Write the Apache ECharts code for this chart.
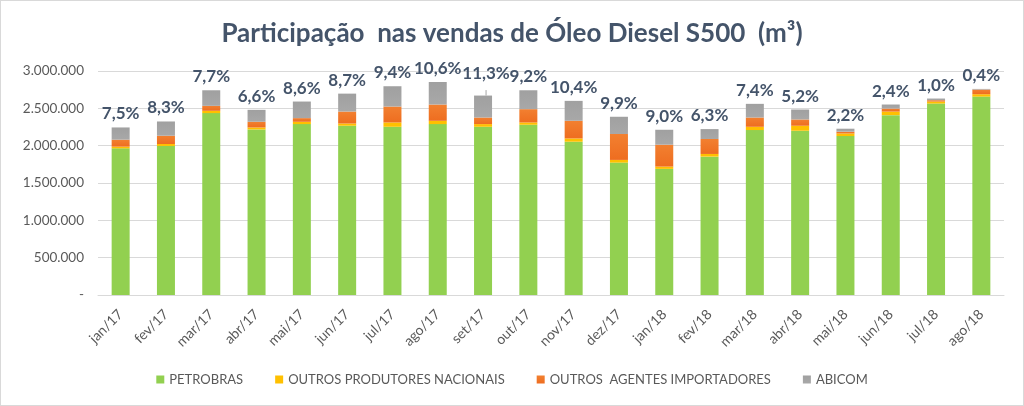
<!DOCTYPE html>
<html><head><meta charset="utf-8">
<script src="https://cdn.jsdelivr.net/npm/echarts@6/dist/echarts.min.js"></script>
<style>
html,body{margin:0;padding:0;background:#fff;}
#c{width:1022px;height:404px;border:1px solid #d9d9d9;}
</style></head>
<body><div id="c"></div>
<script>
const categories = ['jan/17','fev/17','mar/17','abr/17','mai/17','jun/17','jul/17','ago/17','set/17','out/17','nov/17','dez/17','jan/18','fev/18','mar/18','abr/18','mai/18','jun/18','jul/18','ago/18'];
const petrobras = [1964000,1996000,2436000,2217000,2289000,2267000,2253000,2289000,2253000,2280000,2053000,1773000,1689000,1853000,2209000,2200000,2129000,2409000,2564000,2657000];
const outrosProdutores = [23000,26000,31000,27000,31000,30000,58000,44000,36000,31000,44000,36000,31000,36000,44000,67000,35000,48000,27000,32000];
const outrosImportadores = [93000,111000,66000,76000,49000,160000,213000,218000,88000,178000,236000,347000,293000,200000,124000,84000,23000,40000,18000,62000];
const abicom = [164000,191000,209000,160000,222000,240000,272000,302000,294000,253000,267000,231000,200000,133000,183000,133000,40000,54000,22000,9000];
const shareLabels = ['7,5%','8,3%','7,7%','6,6%','8,6%','8,7%','9,4%','10,6%','11,3%','9,2%','10,4%','9,9%','9,0%','6,3%','7,4%','5,2%','2,2%','2,4%','1,0%','0,4%'];
const seriesNames = ['PETROBRAS','OUTROS PRODUTORES NACIONAIS','OUTROS  AGENTES IMPORTADORES','ABICOM'];
const yTicks = {min:0,max:3000000,interval:500000};

const font = 'Lato, "Open Sans", sans-serif';
function fmt(v){ if(v===0) return '-'; return String(v).replace(/\B(?=(\d{3})+(?!\d))/g,'.'); }

const chart = echarts.init(document.getElementById('c'));
chart.setOption({
  animation:false,
  title:{text:'Participação  nas vendas de Óleo Diesel S500  (m³)',left:'center',top:15,
    textStyle:{fontFamily:font,fontSize:26,fontWeight:'bold',color:'#44546A'}},
  grid:{left:97,right:19,top:70,bottom:110},
  legend:{bottom:14,left:'center',icon:'rect',itemWidth:8,itemHeight:8,itemGap:32,
    textStyle:{fontFamily:font,fontSize:13,color:'#595959'},data:seriesNames},
  xAxis:{type:'category',data:categories,
    axisLine:{lineStyle:{color:'#d9d9d9'}},axisTick:{show:false},
    axisLabel:{rotate:45,color:'#595959',fontFamily:font,fontSize:14,margin:17,interval:0}},
  yAxis:{type:'value',min:yTicks.min,max:yTicks.max,interval:yTicks.interval,
    axisLine:{show:false},axisTick:{show:false},
    splitLine:{lineStyle:{color:'#d9d9d9'}},
    axisLabel:{formatter:fmt,color:'#595959',fontFamily:font,fontSize:13.5,margin:14}},
  series:[
    {name:seriesNames[0],type:'bar',stack:'s',barWidth:18,data:petrobras,itemStyle:{color:'#92D050'}},
    {name:seriesNames[1],type:'bar',stack:'s',data:outrosProdutores,itemStyle:{color:'#FFC000'}},
    {name:seriesNames[2],type:'bar',stack:'s',data:outrosImportadores,
      itemStyle:{color:new echarts.graphic.LinearGradient(0,0,0,1,[{offset:0,color:'#F28030'},{offset:1,color:'#EE6D20'}])}},
    {name:seriesNames[3],type:'bar',stack:'s',
      data:abicom.map((v,i)=> i===8 ? {value:v,label:{offset:[3,-9]},labelLine:{show:true}} : v),
      itemStyle:{color:new echarts.graphic.LinearGradient(0,0,0,1,[{offset:0,color:'#A0A0A0'},{offset:1,color:'#A8A8A8'}])},
      label:{show:true,position:'top',distance:5,formatter:p=>shareLabels[p.dataIndex],
        fontFamily:font,fontSize:17,fontWeight:'bold',color:'#44546A'},
      labelLine:{lineStyle:{color:'#a6a6a6'}}}
  ]
});
</script></body></html>
